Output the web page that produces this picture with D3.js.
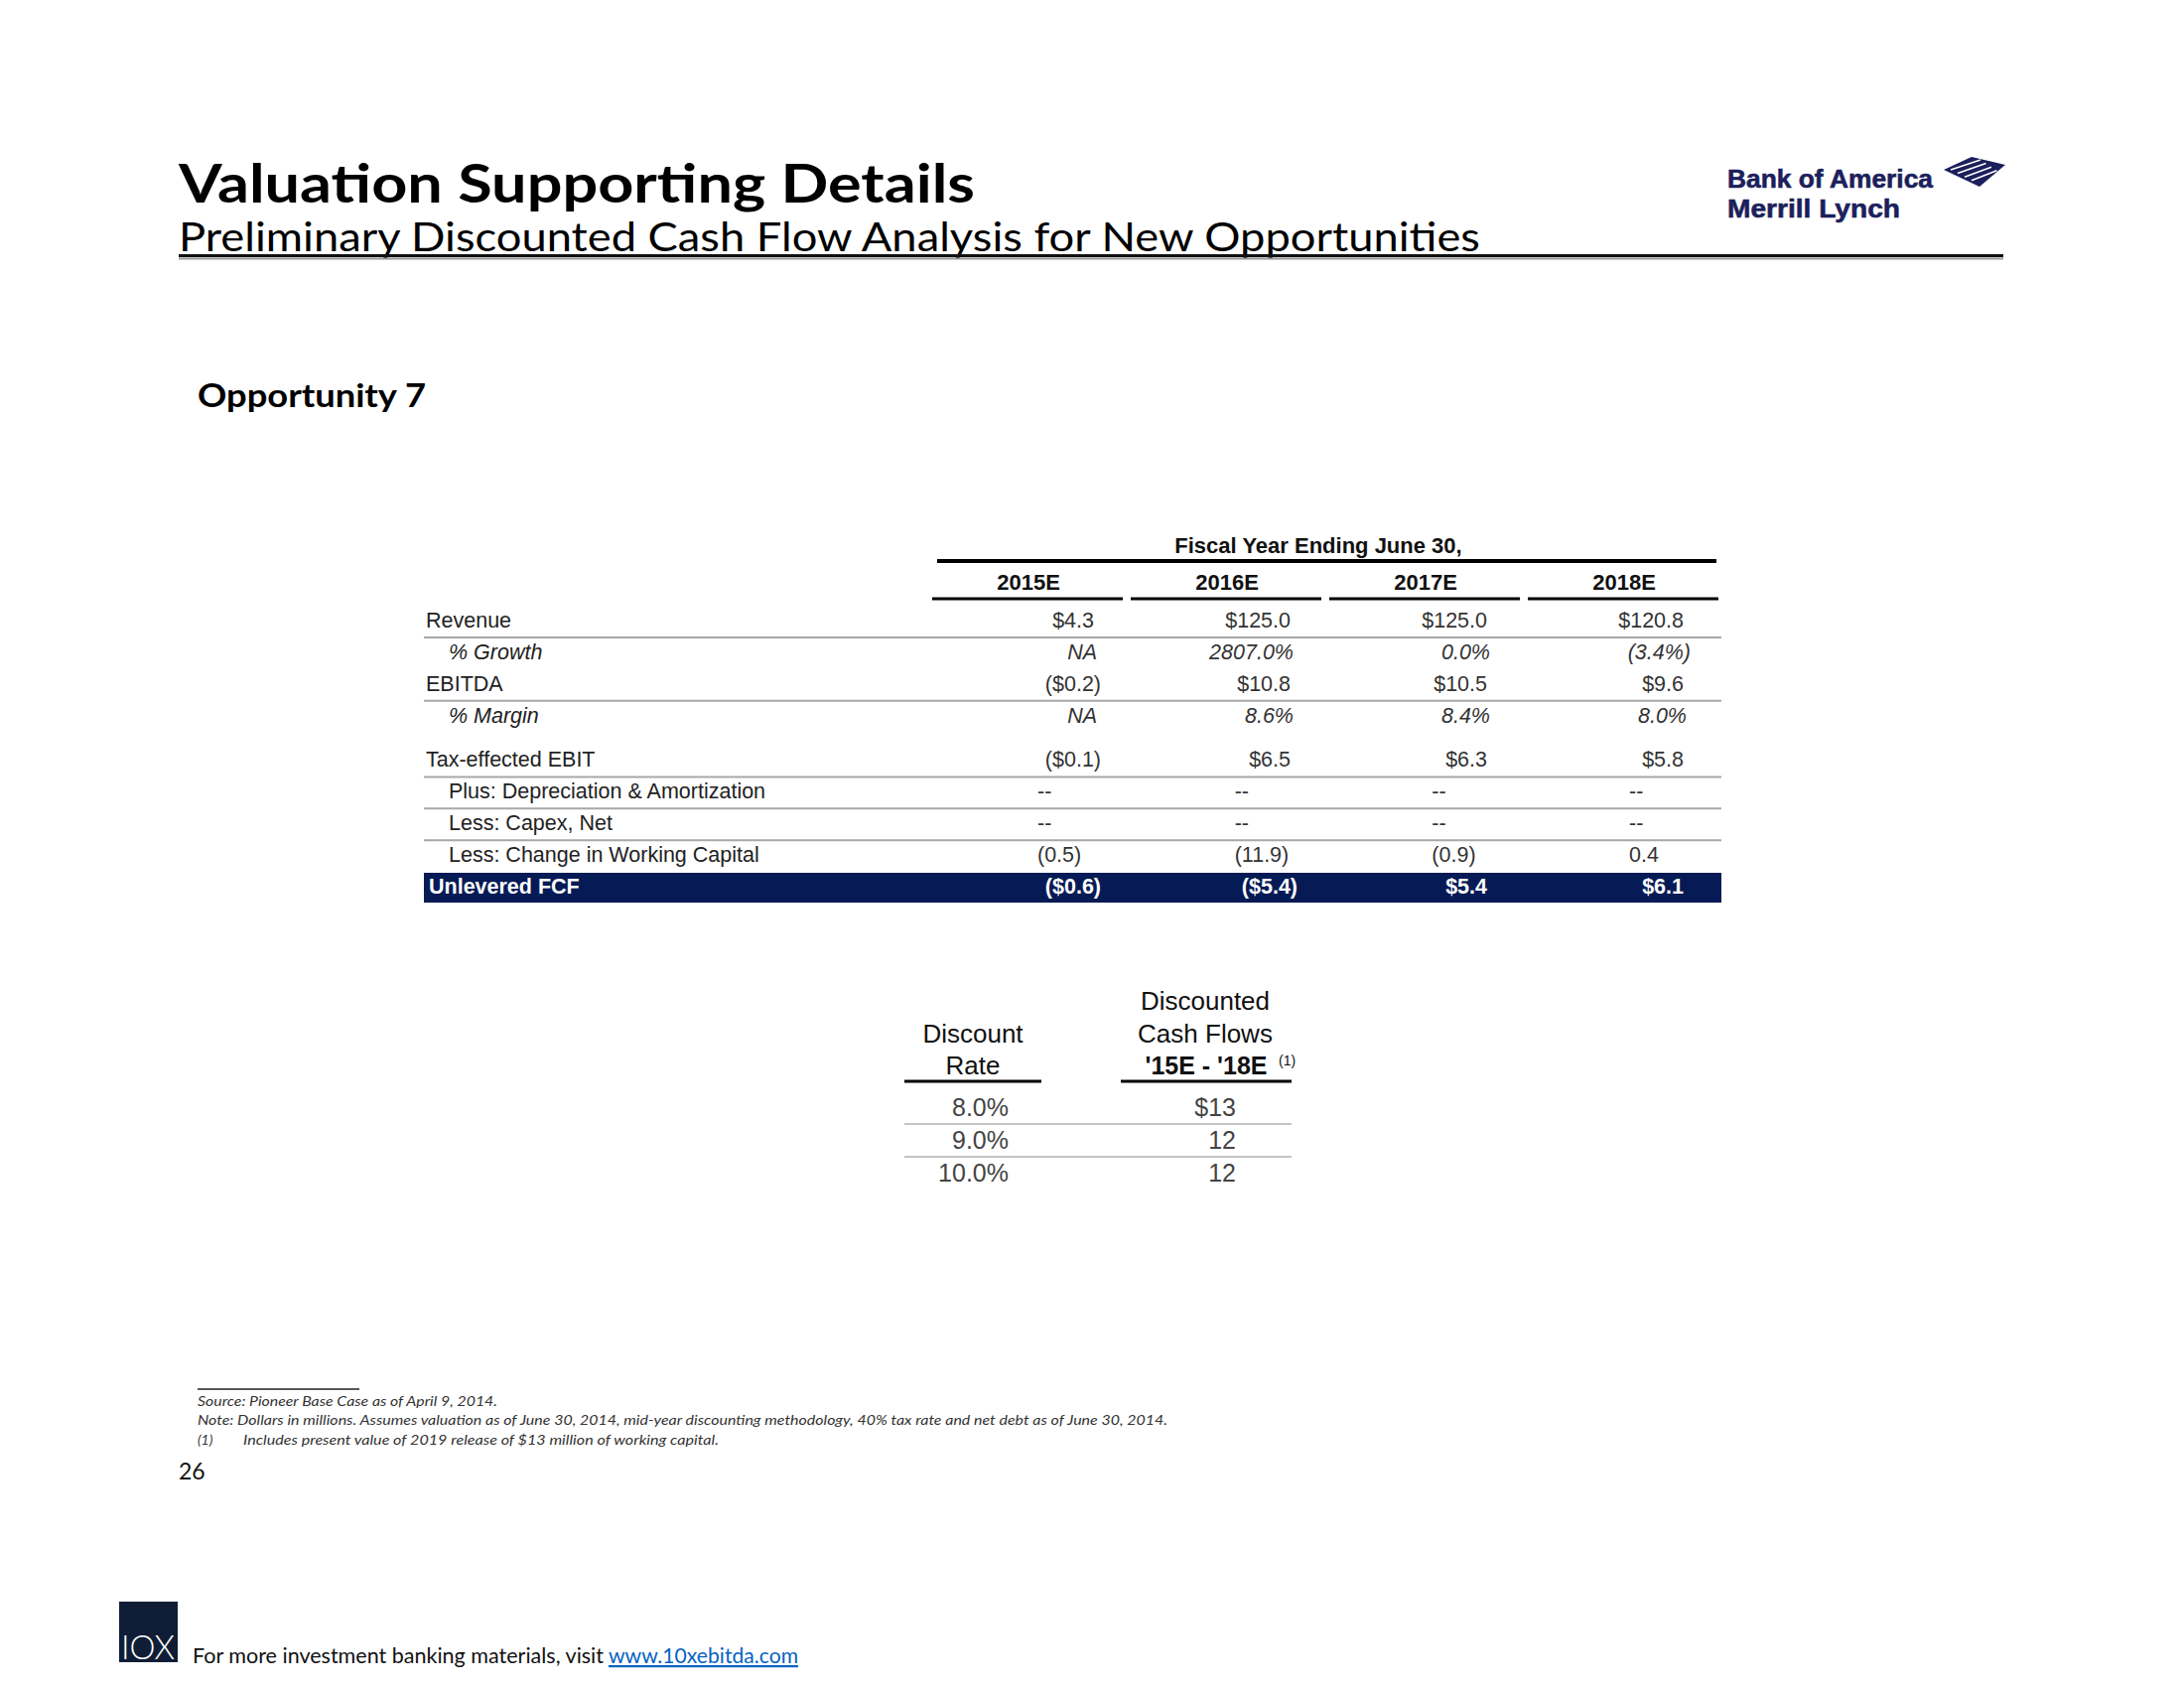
<!DOCTYPE html>
<html>
<head>
<meta charset="utf-8">
<script src="https://cdn.jsdelivr.net/npm/d3@7"></script>
<style>
  html, body { margin: 0; padding: 0; background: #fff; }
  svg { display: block; }
</style>
</head>
<body>
<svg id="chart" width="2200" height="1700"></svg>
<script>
// ---------------- DATA ----------------
const years = ["2015E", "2016E", "2017E", "2018E"];
const rowLabels = [
  "Revenue", "% Growth", "EBITDA", "% Margin", "Tax-effected EBIT",
  "Plus: Depreciation & Amortization", "Less: Capex, Net",
  "Less: Change in Working Capital", "Unlevered FCF"
];
const revenue = [4.3, 125.0, 125.0, 120.8];
const revenueGrowth = [null, 2807.0, 0.0, -3.4];
const ebitda = [-0.2, 10.8, 10.5, 9.6];
const ebitdaMargin = [null, 8.6, 8.4, 8.0];
const taxEffectedEbit = [-0.1, 6.5, 6.3, 5.8];
const depreciationAmortization = [0, 0, 0, 0];
const capexNet = [0, 0, 0, 0];
const changeWorkingCapital = [-0.5, -11.9, -0.9, 0.4];
const unleveredFcf = [-0.6, -5.4, 5.4, 6.1];

const discountRates = [8.0, 9.0, 10.0];
const discountedCashFlows = [13, 12, 12];

const titleText = "Valuation Supporting Details";
const subtitleText = "Preliminary Discounted Cash Flow Analysis for New Opportunities";
const sectionText = "Opportunity 7";
const fiscalHeader = "Fiscal Year Ending June 30,";
const footnotes = [
  "Source: Pioneer Base Case as of April 9, 2014.",
  "Note: Dollars in millions. Assumes valuation as of June 30, 2014, mid-year discounting methodology, 40% tax rate and net debt as of June 30, 2014.",
  "Includes present value of 2019 release of $13 million of working capital."
];
const pageNumber = "26";

// ---------------- FORMATTERS ----------------
const f1 = d3.format(".1f");
const dollar = v => v < 0 ? "($" + f1(-v) + ")" : "$" + f1(v);
const pct = v => v === null ? "NA" : (v < 0 ? "(" + f1(-v) + "%)" : f1(v) + "%");
const dash = v => v === 0 ? "--" : (v < 0 ? "(" + f1(-v) + ")" : f1(v));

const rows = [
  {label: rowLabels[0], vals: revenue, fmt: dollar, indent: false, italic: false, align: "right", line: true},
  {label: rowLabels[1], vals: revenueGrowth, fmt: pct, indent: true, italic: true, align: "right", line: false},
  {label: rowLabels[2], vals: ebitda, fmt: dollar, indent: false, italic: false, align: "right", line: true},
  {label: rowLabels[3], vals: ebitdaMargin, fmt: pct, indent: true, italic: true, align: "right", line: false},
  {label: rowLabels[4], vals: taxEffectedEbit, fmt: dollar, indent: false, italic: false, align: "right", line: true},
  {label: rowLabels[5], vals: depreciationAmortization, fmt: dash, indent: true, italic: false, align: "left", line: true},
  {label: rowLabels[6], vals: capexNet, fmt: dash, indent: true, italic: false, align: "left", line: true},
  {label: rowLabels[7], vals: changeWorkingCapital, fmt: dash, indent: true, italic: false, align: "left", line: false},
  {label: rowLabels[8], vals: unleveredFcf, fmt: dollar, indent: false, italic: false, align: "right", line: false, total: true}
];

// ---------------- DRAW ----------------
const svg = d3.select("#chart");
const SANS = "'Liberation Sans', Arial, sans-serif";
const CAL = "Lato, 'Open Sans', sans-serif";

// Header
svg.append("text").attr("x", 180).attr("y", 204)
  .attr("font-family", CAL).attr("font-weight", 700).attr("font-size", 54)
  .attr("textLength", 802).attr("lengthAdjust", "spacingAndGlyphs")
  .attr("fill", "#000").text(titleText);
svg.append("text").attr("x", 180).attr("y", 253)
  .attr("font-family", CAL).attr("font-weight", 400).attr("font-size", 41)
  .attr("textLength", 1311).attr("lengthAdjust", "spacingAndGlyphs")
  .attr("fill", "#000").text(subtitleText);
svg.append("line").attr("x1", 180).attr("x2", 2018).attr("y1", 257.5).attr("y2", 257.5)
  .attr("stroke", "#111").attr("stroke-width", 3);
svg.append("line").attr("x1", 180).attr("x2", 2018).attr("y1", 260.5).attr("y2", 260.5)
  .attr("stroke", "#999").attr("stroke-width", 2);

// Logo
const logo = svg.append("g");
logo.append("text").attr("x", 1740).attr("y", 189)
  .attr("font-family", SANS).attr("font-weight", 700).attr("font-size", 26)
  .attr("textLength", 207).attr("lengthAdjust", "spacingAndGlyphs")
  .attr("fill", "#1c1f5c").attr("stroke", "#1c1f5c").attr("stroke-width", 0.6)
  .text("Bank of America");
logo.append("text").attr("x", 1740).attr("y", 219)
  .attr("font-family", SANS).attr("font-weight", 700).attr("font-size", 26)
  .attr("textLength", 174).attr("lengthAdjust", "spacingAndGlyphs")
  .attr("fill", "#1c1f5c").attr("stroke", "#1c1f5c").attr("stroke-width", 0.6)
  .text("Merrill Lynch");
// flag mark
const flag = logo.append("g").attr("transform", "translate(1950,157)");
flag.append("path").attr("d", "M8,14 L36,1 L70,9 L44,31 Z").attr("fill", "#1c1f5c");
[0, 1, 2, 3].forEach(i => {
  flag.append("line")
    .attr("x1", 15 + i * 7).attr("y1", 14 + i * 3.6)
    .attr("x2", 45 + i * 5.5).attr("y2", 4 + i * 3.6)
    .attr("stroke", "#fff").attr("stroke-width", 1.6);
});

// Section title
svg.append("text").attr("x", 199).attr("y", 410)
  .attr("font-family", CAL).attr("font-weight", 700).attr("font-size", 33)
  .attr("textLength", 230).attr("lengthAdjust", "spacingAndGlyphs")
  .attr("fill", "#000").text(sectionText);

// ---------------- MAIN TABLE ----------------
const tableLeft = 427, tableRight = 1734;
const colX = d3.scaleBand().domain(years).range([939, 1731]).paddingInner(0.04);
const valueRight = d3.scaleLinear().domain([0, years.length - 1]).range([1102, 1696]);
const valueLeft = d3.scaleLinear().domain([0, years.length - 1]).range([1045, 1641]);
const rowPos = rows.map((r, i) => i + (i >= 4 ? 0.4 : 0));
const rowY = d3.scaleLinear().domain([0, 8.4]).range([632, 900]);

// Fiscal header
svg.append("text").attr("x", 1328).attr("y", 557).attr("text-anchor", "middle")
  .attr("font-family", SANS).attr("font-weight", 700).attr("font-size", 22)
  .attr("fill", "#111").text(fiscalHeader);
svg.append("line").attr("x1", 944).attr("x2", 1729).attr("y1", 565).attr("y2", 565)
  .attr("stroke", "#000").attr("stroke-width", 4);

// Year headers + underlines
const hdr = svg.append("g").selectAll("g").data(years).join("g");
hdr.append("text")
  .attr("x", d => colX(d) + colX.bandwidth() / 2 + 1).attr("y", 594)
  .attr("text-anchor", "middle")
  .attr("font-family", SANS).attr("font-weight", 700).attr("font-size", 22)
  .attr("fill", "#111").text(d => d);
hdr.append("line")
  .attr("x1", d => colX(d)).attr("x2", d => colX(d) + colX.bandwidth())
  .attr("y1", 603).attr("y2", 603)
  .attr("stroke", "#000").attr("stroke-width", 3);

// Total band
const fcfIdx = rows.length - 1;
svg.append("rect")
  .attr("x", tableLeft).attr("width", tableRight - tableLeft)
  .attr("y", rowY(rowPos[fcfIdx]) - 21).attr("height", 30)
  .attr("fill", "#061b55");

// Row separators
rows.forEach((r, i) => {
  if (r.line) {
    svg.append("line").attr("x1", tableLeft).attr("x2", tableRight)
      .attr("y1", rowY(rowPos[i]) + 10).attr("y2", rowY(rowPos[i]) + 10)
      .attr("stroke", "#a8a8a8").attr("stroke-width", 2);
  }
});

// Labels
rows.forEach((r, i) => {
  svg.append("text")
    .attr("x", r.total ? 432 : (r.indent ? 452 : 429))
    .attr("y", rowY(rowPos[i]))
    .attr("font-family", SANS).attr("font-size", 21.5)
    .attr("font-weight", r.total ? 700 : 400)
    .attr("font-style", r.italic ? "italic" : "normal")
    .attr("fill", r.total ? "#fff" : "#222")
    .text(r.label);
});

// Values
rows.forEach((r, i) => {
  const g = svg.append("g");
  g.selectAll("text").data(r.vals).join("text")
    .attr("x", (v, j) => {
      const s = r.fmt(v);
      if (r.align === "left") return valueLeft(j);
      let right = valueRight(j);
      if (s.endsWith(")")) right += 7;
      else if (r.italic) right += 3;
      return right;
    })
    .attr("y", rowY(rowPos[i]))
    .attr("text-anchor", r.align === "left" ? "start" : "end")
    .attr("font-family", SANS).attr("font-size", 21.5)
    .attr("font-weight", r.total ? 700 : 400)
    .attr("font-style", r.italic ? "italic" : "normal")
    .attr("fill", r.total ? "#fff" : "#333")
    .text(v => r.fmt(v));
});

// ---------------- DISCOUNT TABLE ----------------
const dY = d3.scaleLinear().domain([0, discountRates.length - 1]).range([1124, 1190]);
const dg = svg.append("g").attr("font-family", SANS);
dg.append("text").attr("x", 980).attr("y", 1050).attr("text-anchor", "middle")
  .attr("font-size", 26).attr("fill", "#111").text("Discount");
dg.append("text").attr("x", 980).attr("y", 1082).attr("text-anchor", "middle")
  .attr("font-size", 26).attr("fill", "#111").text("Rate");
dg.append("text").attr("x", 1214).attr("y", 1017).attr("text-anchor", "middle")
  .attr("font-size", 26).attr("fill", "#111").text("Discounted");
dg.append("text").attr("x", 1214).attr("y", 1050).attr("text-anchor", "middle")
  .attr("font-size", 26).attr("fill", "#111").text("Cash Flows");
dg.append("text").attr("x", 1215).attr("y", 1082).attr("text-anchor", "middle")
  .attr("font-size", 25).attr("font-weight", 700).attr("fill", "#111").text("'15E - '18E");
dg.append("text").attr("x", 1288).attr("y", 1073)
  .attr("font-size", 14).attr("fill", "#111").text("(1)");
dg.append("line").attr("x1", 911).attr("x2", 1049).attr("y1", 1089).attr("y2", 1089)
  .attr("stroke", "#000").attr("stroke-width", 3);
dg.append("line").attr("x1", 1129).attr("x2", 1301).attr("y1", 1089).attr("y2", 1089)
  .attr("stroke", "#000").attr("stroke-width", 3);
discountRates.forEach((r, i) => {
  if (i < discountRates.length - 1) {
    dg.append("line").attr("x1", 911).attr("x2", 1301)
      .attr("y1", dY(i) + 8).attr("y2", dY(i) + 8)
      .attr("stroke", "#b0b0b0").attr("stroke-width", 1.5);
  }
});
dg.selectAll("text.rate").data(discountRates).join("text").attr("class", "rate")
  .attr("x", 1016).attr("y", (d, i) => dY(i)).attr("text-anchor", "end")
  .attr("font-size", 25).attr("fill", "#444").text(d => f1(d) + "%");
dg.selectAll("text.dcf").data(discountedCashFlows).join("text").attr("class", "dcf")
  .attr("x", 1245).attr("y", (d, i) => dY(i)).attr("text-anchor", "end")
  .attr("font-size", 25).attr("fill", "#444").text((d, i) => (i === 0 ? "$" : "") + d);

// ---------------- FOOTNOTES ----------------
svg.append("line").attr("x1", 199).attr("x2", 362).attr("y1", 1399).attr("y2", 1399)
  .attr("stroke", "#222").attr("stroke-width", 1.5);
const fn = svg.append("g").attr("font-family", CAL).attr("font-style", "italic")
  .attr("font-size", 14).attr("fill", "#333");
fn.append("text").attr("x", 199).attr("y", 1416)
  .attr("textLength", 302).attr("lengthAdjust", "spacingAndGlyphs").text(footnotes[0]);
fn.append("text").attr("x", 199).attr("y", 1435)
  .attr("textLength", 977).attr("lengthAdjust", "spacingAndGlyphs").text(footnotes[1]);
fn.append("text").attr("x", 199).attr("y", 1455).text("(1)");
fn.append("text").attr("x", 245).attr("y", 1455)
  .attr("textLength", 479).attr("lengthAdjust", "spacingAndGlyphs").text(footnotes[2]);
svg.append("text").attr("x", 180).attr("y", 1490)
  .attr("font-family", CAL).attr("font-size", 23).attr("fill", "#111").text(pageNumber);

// ---------------- FOOTER ----------------
svg.append("rect").attr("x", 120).attr("y", 1613).attr("width", 59).attr("height", 61)
  .attr("fill", "#0f1e36");
svg.append("text").attr("x", 149).attr("y", 1671).attr("text-anchor", "middle")
  .attr("font-family", CAL).attr("font-weight", 300).attr("font-size", 34)
  .attr("textLength", 54).attr("lengthAdjust", "spacingAndGlyphs")
  .attr("fill", "#fff").text("IOX");
svg.append("text").attr("x", 194).attr("y", 1675)
  .attr("font-family", CAL).attr("font-size", 22).attr("fill", "#111")
  .attr("textLength", 414).attr("lengthAdjust", "spacingAndGlyphs")
  .text("For more investment banking materials, visit");
svg.append("text").attr("x", 613).attr("y", 1675)
  .attr("font-family", CAL).attr("font-size", 22).attr("fill", "#0563c1")
  .attr("text-decoration", "underline")
  .attr("textLength", 191).attr("lengthAdjust", "spacingAndGlyphs")
  .text("www.10xebitda.com");
</script>
</body>
</html>
